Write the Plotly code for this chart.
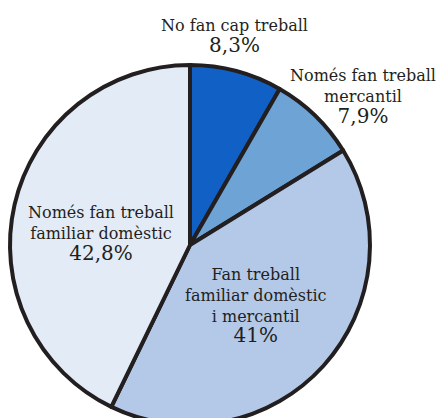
import plotly.graph_objects as go

categories = ["No fan cap treball", "Només fan treball mercantil",
              "Fan treball familiar domèstic i mercantil", "Només fan treball familiar domèstic"]
label_lines = [["No fan cap treball"], ["Només fan treball", "mercantil"],
               ["Fan treball", "familiar domèstic", "i mercantil"],
               ["Només fan treball", "familiar domèstic"]]
values = [8.3, 7.9, 41.0, 42.8]
colors = ["#1160c6", "#6ea3d6", "#b4c9e8", "#e3ebf7"]

W, H = 439, 430
ML, MR, MT, MB = 10, 69, 65, 5
PW, PH = W - ML - MR, H - MT - MB

# label centre positions (pixels), top of first line
label_pos = [(234, 14), (363, 64), (256, 263), (101, 201)]

def fmt(v):
    return f"{v:g}".replace(".", ",") + "%"

fig = go.Figure(go.Pie(
    labels=categories, values=values, sort=False, direction="clockwise",
    rotation=0, marker=dict(colors=colors, line=dict(color="#231f20", width=4)),
    textinfo="none", hoverinfo="label+percent", showlegend=False,
))

anns = []
for lines, v, (px, py) in zip(label_lines, values, label_pos):
    text = "<br>".join(lines) + "<br><span style='font-size:20px'>" + fmt(v) + "</span>"
    anns.append(dict(x=(px - ML) / PW, y=1 - (py - MT) / PH, xref="paper", yref="paper",
                     text=text, showarrow=False, xanchor="center", yanchor="top",
                     align="center", font=dict(family="DejaVu Serif", size=16, color="#231f20")))

fig.update_layout(width=W, height=H, margin=dict(l=ML, r=MR, t=MT, b=MB),
                  paper_bgcolor="white", plot_bgcolor="white", annotations=anns)

fig.write_html("out.html", config={"displayModeBar": False},
               post_script="document.body.style.margin='0';document.body.style.overflow='hidden';")
